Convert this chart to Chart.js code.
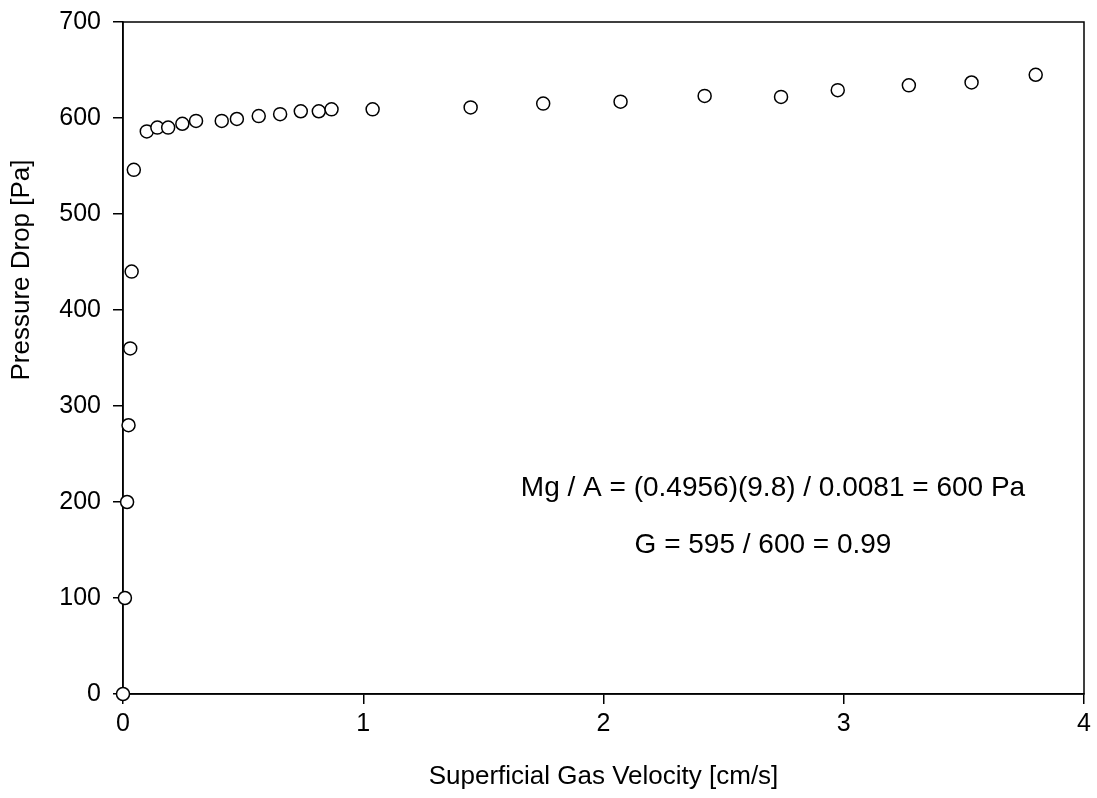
<!DOCTYPE html>
<html lang="en">

<head>
    <meta charset="UTF-8">
    <title>Pressure Drop</title>
    <style>
        body { margin: 0; background: #fff; }
    </style>
</head>

<body>
    <div style="width: 1097px; height: 798px;">
        <canvas id="myChart"></canvas>
    </div>

    <script src="https://cdn.jsdelivr.net/npm/chart.js"></script>

    <script>
        // superficial gas velocity [cm/s]
        let v_velocity = [0, 0.008, 0.017, 0.023, 0.030, 0.036, 0.045, 0.099, 0.143, 0.188, 0.247, 0.304,
            0.411, 0.474, 0.565, 0.654, 0.740, 0.815, 0.868, 1.039, 1.447, 1.749, 2.071, 2.421,
            2.739, 2.975, 3.271, 3.532, 3.799];
        // pressure drop [Pa]
        let v_pressure = [0, 100, 200, 280, 360, 440, 546, 586, 590, 590, 594, 597,
            597, 599, 602, 604, 607, 607, 609, 609, 611, 615, 617, 623,
            622, 629, 634, 637, 645];

        let v_xTicks = [0, 1, 2, 3, 4];
        let v_yTicks = [0, 100, 200, 300, 400, 500, 600, 700];
        let v_xTitle = "Superficial Gas Velocity [cm/s]";
        let v_yTitle = "Pressure Drop [Pa]";
        let v_notes = ["Mg / A = (0.4956)(9.8) / 0.0081 = 600 Pa", "G = 595 / 600 = 0.99"];

        let v_points = [];
        for (let i = 0; i < v_velocity.length; i++) {
            v_points.push({ x: v_velocity[i], y: v_pressure[i] });
        }

        const FONT = "'Liberation Sans', Arial, sans-serif";

        // frame round the plot, y title and the two text lines
        const framePlugin = {
            id: "frame",
            beforeDatasetsDraw(chart) {
                const a = chart.chartArea;
                const c = chart.ctx;
                c.save();
                c.strokeStyle = "#000";
                c.lineWidth = 1.5;
                c.strokeRect(a.left, a.top, a.right - a.left, a.bottom - a.top);
                c.restore();
            },
            afterDraw(chart) {
                const c = chart.ctx;
                const a = chart.chartArea;
                c.save();
                c.fillStyle = "#000";
                c.textAlign = "center";
                c.textBaseline = "middle";

                // y title sits a bit above the middle, like the original
                c.save();
                c.font = "26px " + FONT;
                c.translate(22, 270);
                c.rotate(-Math.PI / 2);
                c.fillText(v_yTitle, 0, 0);
                c.restore();

                c.font = "28px " + FONT;
                c.fillText(v_notes[0], a.left + 650, 488);
                c.fillText(v_notes[1], a.left + 640, 545);
                c.restore();
            }
        };

        const ctx = document.getElementById("myChart");

        new Chart(ctx, {
            type: 'scatter',
            data: {
                datasets: [{
                    data: v_points,
                    pointRadius: 6.5,
                    pointBorderWidth: 1.5,
                    pointBorderColor: "#000",
                    pointBackgroundColor: "#fff",
                    pointHoverRadius: 6.5,
                    clip: false
                }]
            },
            options: {
                responsive: true,
                maintainAspectRatio: false,
                animation: false,
                events: [],
                layout: {
                    padding: { top: 22, right: 13, left: 0, bottom: 0 }
                },
                plugins: {
                    legend: { display: false },
                    tooltip: { enabled: false }
                },
                scales: {
                    x: {
                        type: 'linear',
                        min: 0,
                        max: 4,
                        afterBuildTicks: (s) => { s.ticks = v_xTicks.map(v => ({ value: v })); },
                        afterFit: (s) => {
                            s.height = 104;
                            s.paddingLeft = 0;
                            s.paddingRight = 0;
                        },
                        grid: {
                            drawOnChartArea: false,
                            drawTicks: true,
                            tickLength: 10,
                            color: "#000",
                            lineWidth: 1.5
                        },
                        border: { color: "#000", width: 1.5 },
                        ticks: {
                            color: "#000",
                            padding: 5,
                            font: { family: FONT, size: 25 }
                        },
                        title: {
                            display: true,
                            text: v_xTitle,
                            color: "#000",
                            font: { family: FONT, size: 26 },
                            padding: { top: 20, bottom: 6 }
                        }
                    },
                    y: {
                        type: 'linear',
                        min: 0,
                        max: 700,
                        afterBuildTicks: (s) => { s.ticks = v_yTicks.map(v => ({ value: v })); },
                        afterFit: (s) => {
                            s.width = 123;
                            s.paddingTop = 0;
                            s.paddingBottom = 0;
                        },
                        grid: {
                            drawOnChartArea: false,
                            drawTicks: true,
                            tickLength: 10,
                            color: "#000",
                            lineWidth: 1.5
                        },
                        border: { color: "#000", width: 1.5 },
                        ticks: {
                            color: "#000",
                            padding: 12,
                            font: { family: FONT, size: 25 }
                        }
                    }
                }
            },
            plugins: [framePlugin]
        });
    </script>

</body>

</html>
